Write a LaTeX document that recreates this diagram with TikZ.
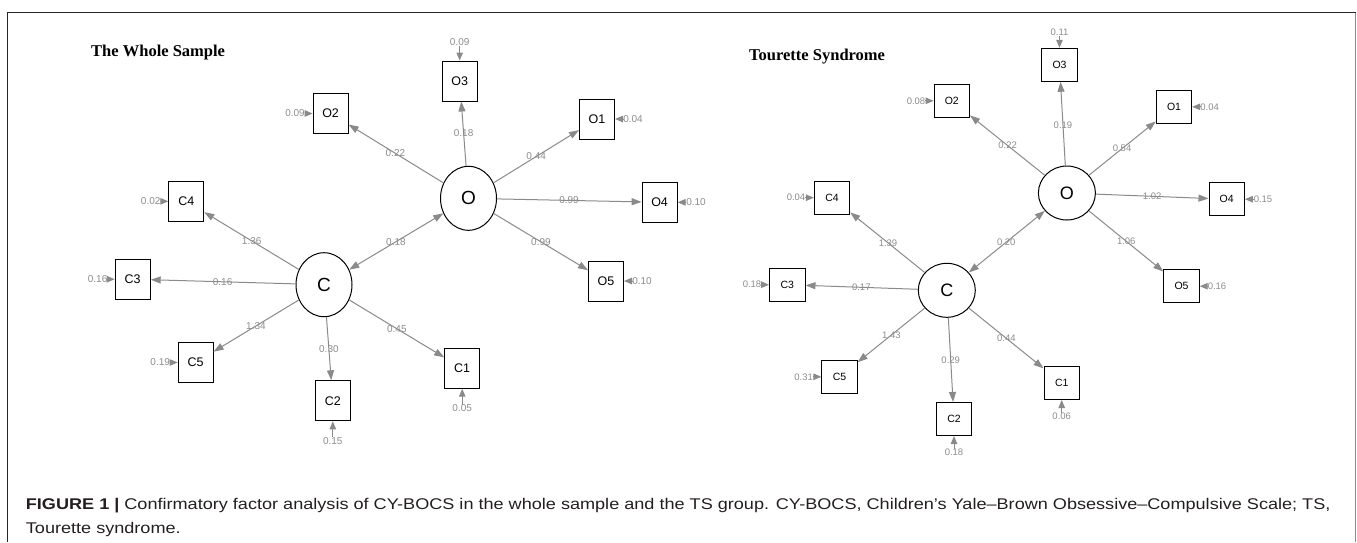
\documentclass[tikz,border=0pt]{standalone}
\usepackage{fontspec}
\setmainfont{Liberation Sans}
\newfontfamily\titlefont{Liberation Serif}
\newfontfamily\capfont[FakeStretch=1.167]{Liberation Sans}
\usetikzlibrary{arrows.meta,shapes.geometric,calc}
\definecolor{edgegray}{HTML}{8A8A8A}
\definecolor{labgray}{HTML}{8C8C8C}
\definecolor{captext}{HTML}{231F20}
\tikzset{
 mbox/.style={draw=black, line width=1pt, fill=white, inner sep=0pt, minimum width=35pt, minimum height=40pt, font=\fontsize{12.5}{12.5}\selectfont},
 mboxR/.style={mbox, minimum width=35.4pt, minimum height=33pt, font=\fontsize{10.5}{10.5}\selectfont},
 lat/.style={ellipse, draw=black, line width=1pt, fill=white, inner sep=0pt, minimum width=56pt, minimum height=64pt, font=\fontsize{19}{19}\selectfont},
 latR/.style={lat, minimum width=57pt, minimum height=54pt, font=\fontsize{18}{18}\selectfont},
 load/.style={draw=edgegray, line width=1pt, -{Triangle[length=10pt,width=7pt]}},
 cov/.style={draw=edgegray, line width=1pt, {Triangle[length=10pt,width=7pt]}-{Triangle[length=10pt,width=7pt]}},
 resid/.style={draw=edgegray, line width=1pt, -{Triangle[length=8pt,width=6.5pt]}},
 elab/.style={text=labgray, inner sep=0pt, font=\fontsize{10}{10}\selectfont},
 elabR/.style={elab, font=\fontsize{9.5}{9.5}\selectfont},
 rlab/.style={text=labgray, inner sep=0pt, font=\fontsize{10}{10}\selectfont},
 rlabR/.style={rlab, font=\fontsize{9.5}{9.5}\selectfont},
 ttl/.style={inner sep=0pt, anchor=base west, font=\titlefont\bfseries\fontsize{16.5}{16.5}\selectfont},
 captxt/.style={inner sep=0pt, anchor=base west, text=captext, font=\capfont\fontsize{15.5}{15.5}\selectfont},
}
\begin{document}
\begin{tikzpicture}[x=1pt,y=-1pt]
\useasboundingbox (0,0) rectangle (1357,542);
% frame
\draw[line width=1.2pt, draw=black!85] (7.8,542) -- (7.8,12.5) -- (1355.5,12.5);
\draw[line width=1.5pt, draw=black!45] (1355.5,12.5) -- (1355.5,542);

% ---------------- left: whole sample ----------------
\node[ttl] (Ltitle) at (91,56.7) {The Whole Sample};
\node[mbox] (LO3) at (459.7,81) {O3};
\node[mbox] (LO2) at (330.6,113.5) {O2};
\node[mbox] (LO1) at (597,119) {O1};
\node[mbox] (LO4) at (659.6,202.3) {O4};
\node[mbox] (LO5) at (606,281) {O5};
\node[mbox] (LC4) at (186.3,201.3) {C4};
\node[mbox] (LC3) at (132.7,279.2) {C3};
\node[mbox] (LC5) at (195.6,362.5) {C5};
\node[mbox] (LC2) at (332.8,400.8) {C2};
\node[mbox] (LC1) at (462.2,368.2) {C1};
\node[lat] (LO) at (468.5,198.3) {O};
\node[lat] (LC) at (324,284.7) {C};

\draw[load] (LO) -- (LO2);
\draw[load] (LO) -- (LO3);
\draw[load] (LO) -- (LO1);
\draw[load] (LO) -- (LO4);
\draw[load] (LO) -- (LO5);
\draw[cov] (LC) -- (LO);
\draw[load] (LC) -- (LC4);
\draw[load] (LC) -- (LC3);
\draw[load] (LC) -- (LC5);
\draw[load] (LC) -- (LC2);
\draw[load] (LC) -- (LC1);

\node[elab] at ($(LO)!0.53!(LO2)$) {0.22};
\node[elab] at ($(LO)!0.554!(LO3)$) {0.18};
\node[elab] at ($(LO)!0.527!(LO1)$) {0.44};
\node[elab] at ($(LO)!0.526!(LO4)$) {0.99};
\node[elab] at ($(LO)!0.527!(LO5)$) {0.99};
\node[elab] at ($(LC)!0.498!(LO)$) {0.18};
\node[elab] at ($(LC)!0.525!(LC4)$) {1.36};
\node[elab] at ($(LC)!0.53!(LC3)$) {0.16};
\node[elab] at ($(LC)!0.53!(LC5)$) {1.34};
\node[elab] at ($(LC)!0.556!(LC2)$) {0.30};
\node[elab] at ($(LC)!0.527!(LC1)$) {0.45};

\node[rlab] (rLO3) at (459.7,42.3) {0.09};
\node[rlab] (rLO2) at (295,113.5) {0.09};
\node[rlab] (rLO1) at (633,119) {0.04};
\node[rlab] (rLO4) at (696,202.3) {0.10};
\node[rlab] (rLO5) at (642,281) {0.10};
\node[rlab] (rLC4) at (150.7,201.3) {0.02};
\node[rlab] (rLC3) at (97.6,279.2) {0.16};
\node[rlab] (rLC5) at (160.2,362.5) {0.19};
\node[rlab] (rLC2) at (332.8,440.7) {0.15};
\node[rlab] (rLC1) at (462.2,408.3) {0.05};
\draw[resid] (rLO3.south) -- (LO3.north);
\draw[resid] (rLO2.east) -- (LO2.west);
\draw[resid] (rLO1.west) -- (LO1.east);
\draw[resid] (rLO4.west) -- (LO4.east);
\draw[resid] (rLO5.west) -- (LO5.east);
\draw[resid] (rLC4.east) -- (LC4.west);
\draw[resid] (rLC3.east) -- (LC3.west);
\draw[resid] (rLC5.east) -- (LC5.west);
\draw[resid] (rLC2.north) -- (LC2.south);
\draw[resid] (rLC1.north) -- (LC1.south);

% ---------------- right: Tourette syndrome ----------------
\node[ttl] (Rtitle) at (749,60.5) {Tourette Syndrome};
\node[mboxR] (RO3) at (1059.5,64.8) {O3};
\node[mboxR] (RO2) at (951.8,100.8) {O2};
\node[mboxR] (RO1) at (1174,106.8) {O1};
\node[mboxR] (RO4) at (1226.7,199.2) {O4};
\node[mboxR] (RO5) at (1181.5,286.2) {O5};
\node[mboxR] (RC4) at (832,197.7) {C4};
\node[mboxR] (RC3) at (787.3,284.7) {C3};
\node[mboxR] (RC5) at (839.5,376.8) {C5};
\node[mboxR] (RC2) at (954,419) {C2};
\node[mboxR] (RC1) at (1061.7,383) {C1};
\node[latR] (RO) at (1066.9,193) {O};
\node[latR] (RC) at (946.8,290.3) {C};

\draw[load] (RO) -- (RO2);
\draw[load] (RO) -- (RO3);
\draw[load] (RO) -- (RO1);
\draw[load] (RO) -- (RO4);
\draw[load] (RO) -- (RO5);
\draw[cov] (RC) -- (RO);
\draw[load] (RC) -- (RC4);
\draw[load] (RC) -- (RC3);
\draw[load] (RC) -- (RC5);
\draw[load] (RC) -- (RC2);
\draw[load] (RC) -- (RC1);

\node[elabR] at ($(RO)!0.515!(RO2)$) {0.22};
\node[elabR] at ($(RO)!0.53!(RO3)$) {0.19};
\node[elabR] at ($(RO)!0.515!(RO1)$) {0.54};
\node[elabR] at ($(RO)!0.533!(RO4)$) {1.02};
\node[elabR] at ($(RO)!0.518!(RO5)$) {1.06};
\node[elabR] at ($(RC)!0.495!(RO)$) {0.20};
\node[elabR] at ($(RC)!0.512!(RC4)$) {1.39};
\node[elabR] at ($(RC)!0.536!(RC3)$) {0.17};
\node[elabR] at ($(RC)!0.517!(RC5)$) {1.43};
\node[elabR] at ($(RC)!0.544!(RC2)$) {0.29};
\node[elabR] at ($(RC)!0.518!(RC1)$) {0.44};

\node[rlabR] (rRO3) at (1059.5,32.3) {0.11};
\node[rlabR] (rRO2) at (916,100.8) {0.08};
\node[rlabR] (rRO1) at (1209.6,106.8) {0.04};
\node[rlabR] (rRO4) at (1263,199.2) {0.15};
\node[rlabR] (rRO5) at (1217,286.2) {0.16};
\node[rlabR] (rRC4) at (796,197.7) {0.04};
\node[rlabR] (rRC3) at (752,284.7) {0.18};
\node[rlabR] (rRC5) at (803.7,376.8) {0.31};
\node[rlabR] (rRC2) at (954,452.7) {0.18};
\node[rlabR] (rRC1) at (1061.7,416.7) {0.06};
\draw[resid] (rRO3.south) -- (RO3.north);
\draw[resid] (rRO2.east) -- (RO2.west);
\draw[resid] (rRO1.west) -- (RO1.east);
\draw[resid] (rRO4.west) -- (RO4.east);
\draw[resid] (rRO5.west) -- (RO5.east);
\draw[resid] (rRC4.east) -- (RC4.west);
\draw[resid] (rRC3.east) -- (RC3.west);
\draw[resid] (rRC5.east) -- (RC5.west);
\draw[resid] (rRC2.north) -- (RC2.south);
\draw[resid] (rRC1.north) -- (RC1.south);

% ---------------- caption ----------------
\node[captxt] (cap1) at (25.7,509.3) {\textbf{FIGURE 1 |} Confirmatory factor analysis of CY-BOCS in the whole sample and the TS group. CY-BOCS, Children’s Yale–Brown Obsessive–Compulsive Scale; TS,};
\node[captxt] (cap2) at (25.7,533.3) {Tourette syndrome.};
\end{tikzpicture}
\end{document}
